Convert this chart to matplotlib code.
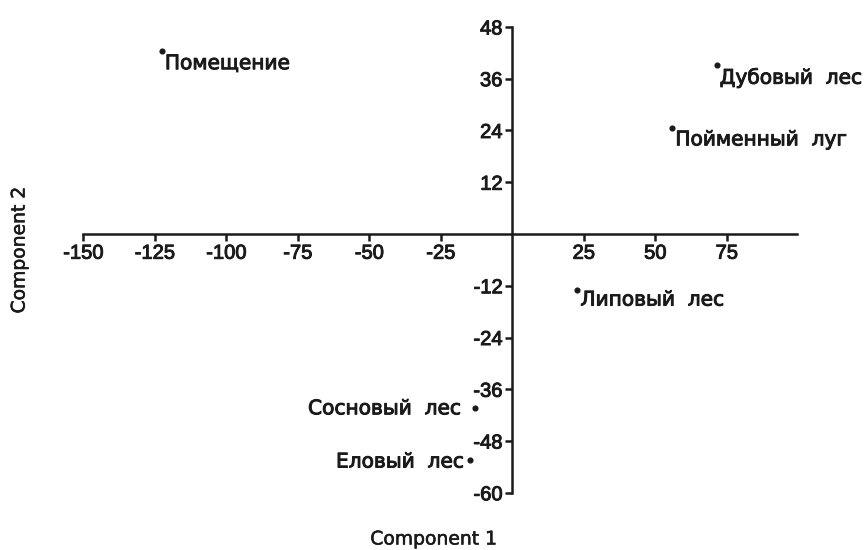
import matplotlib
matplotlib.use("Agg")
import matplotlib.pyplot as plt
import matplotlib.patheffects as pe
from matplotlib import font_manager

names = {f.name for f in font_manager.fontManager.ttflist}
fam = ['Liberation Sans Narrow', 'Liberation Sans', 'DejaVu Sans']
fam = [f for f in fam if f in names] or ['DejaVu Sans']
plt.rcParams['font.family'] = fam

labels = ["Помещение", "Дубовый  лес", "Пойменный  луг", "Липовый  лес", "Сосновый  лес", "Еловый  лес"]
comp1 = [-122.5, 71.5, 56, 22.8, -13, -14.8]
comp2 = [42.5, 39.2, 24.6, -13.0, -40.3, -52.4]
xticks = [-150, -125, -100, -75, -50, -25, 25, 50, 75]
yticks = [-60, -48, -36, -24, -12, 12, 24, 36, 48]

col = '#1a1a1a'
heavy = [pe.withStroke(linewidth=0.7, foreground=col)]

fig = plt.figure(figsize=(8.67, 5.5), dpi=100)
ax = fig.add_axes([0.096, 0.104, 0.823, 0.847])
ax.set_xlim(-150, 99.5)
ax.set_ylim(-60, 48)

ax.plot(comp1, comp2, 'o', color=col, markersize=3.4, linestyle='none', zorder=3)

offsets = {
    0: (3, -13, 'left'),
    1: (3, -13, 'left'),
    2: (3, -12, 'left'),
    3: (3, -10, 'left'),
    4: (-14, -1, 'right'),
    5: (-6, -2, 'right'),
}
for i, (lab, x, y) in enumerate(zip(labels, comp1, comp2)):
    dx, dy, ha = offsets[i]
    ax.annotate(lab, (x, y), xytext=(dx, dy), textcoords='offset pixels',
                ha=ha, va='center', fontsize=14.5, color=col,
                family=['DejaVu Sans'], path_effects=heavy)

for s in ['top', 'right']:
    ax.spines[s].set_visible(False)
ax.spines['left'].set_position(('data', 0))
ax.spines['bottom'].set_position(('data', 0))
for s in ['left', 'bottom']:
    ax.spines[s].set_linewidth(1.8)
    ax.spines[s].set_color(col)

ax.set_xticks(xticks)
ax.set_xticklabels([str(t) for t in xticks])
ax.set_yticks(yticks)
ax.set_yticklabels([str(t) for t in yticks])
ax.tick_params(axis='both', direction='out', length=5, width=1.8, color=col,
               labelsize=14.5, labelcolor=col, pad=2)
for t in ax.get_xticklabels() + ax.get_yticklabels():
    t.set_path_effects(heavy)

fig.text(0.5, 0.02, "Component 1", ha='center', va='center', fontsize=13.5, color=col,
         family=['DejaVu Sans'], path_effects=[pe.withStroke(linewidth=0.4, foreground=col)])
fig.text(0.022, 0.545, "Component 2", ha='center', va='center', rotation=90, fontsize=13.5, color=col,
         family=['DejaVu Sans'], path_effects=[pe.withStroke(linewidth=0.4, foreground=col)])

fig.savefig("out.png", dpi=100)
